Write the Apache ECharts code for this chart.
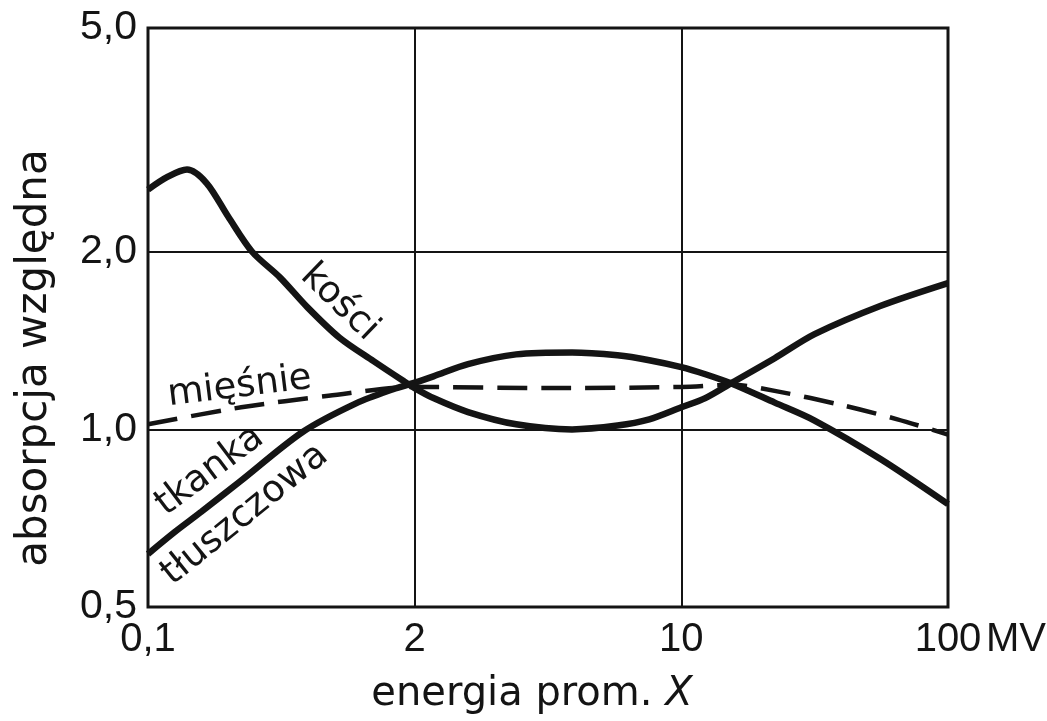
<!DOCTYPE html>
<html><head><meta charset="utf-8">
<script src="https://cdn.jsdelivr.net/npm/echarts@6/dist/echarts.min.js"></script>
<style>html,body{margin:0;padding:0;background:#fff}#c{width:1047px;height:721px}</style>
</head><body><div id="c"></div>
<script>
// ---- data ----
const xTickEnergies = [0.1, 2, 10, 100];
const xTickLabels = ['0,1', '2', '10', '100'];
const yTickValues = [0.5, 1.0, 2.0, 5.0];
const yTickLabels = ['0,5', '1,0', '2,0', '5,0'];

const boneEnergy = [0.1, 0.125, 0.155, 0.193, 0.246, 0.322, 0.44, 0.6, 0.86, 1.26, 1.75, 2.0, 2.24, 2.76, 3.69, 5.17, 6.8, 8.24, 10, 12.3, 15.5, 22.4, 31.6, 56, 100];
const boneValue  = [2.58, 2.72, 2.8, 2.65, 2.31, 2.0, 1.81, 1.61, 1.43, 1.305, 1.21, 1.175, 1.13, 1.07, 1.02, 1.0, 1.015, 1.04, 1.09, 1.13, 1.2, 1.32, 1.45, 1.62, 1.77];

const fatEnergy = [0.1, 0.135, 0.182, 0.281, 0.568, 1.035, 1.57, 2.0, 2.24, 2.76, 3.69, 5.17, 6.8, 8.24, 10, 12.3, 15.5, 22.4, 31.6, 56, 100];
const fatValue  = [0.615, 0.67, 0.725, 0.816, 0.99, 1.107, 1.17, 1.2, 1.23, 1.29, 1.34, 1.35, 1.335, 1.31, 1.275, 1.24, 1.195, 1.11, 1.035, 0.89, 0.747];

const muscleEnergy = [0.1, 0.285, 0.76, 2.0, 4.47, 10, 15.5, 22.9, 39.8, 64.6, 100];
const muscleValue  = [1.02, 1.09, 1.14, 1.18, 1.175, 1.18, 1.19, 1.16, 1.1, 1.04, 0.98];

const curveNames = ['kości', 'mięśnie', 'tkanka', 'tłuszczowa'];

// ---- scales of the original drawing (ticks equally spaced, log within each segment) ----
function xPos(E) {
  const t = xTickEnergies;
  for (let i = 0; i < t.length - 1; i++) {
    if (E <= t[i + 1] || i === t.length - 2) return i + Math.log(E / t[i]) / Math.log(t[i + 1] / t[i]);
  }
}
const TOP_STRETCH = 0.953; // top segment (2 -> 5) is drawn slightly compressed
function yPos(v) {
  if (v <= 2) return Math.log2(v);
  return 1 + Math.log2(v / 2) * TOP_STRETCH;
}
const zip = (xs, ys) => xs.map((e, i) => [xPos(e), yPos(ys[i])]);

// label anchors (data coordinates) and rotations
const labelCfg = [
  { text: curveNames[0], E: 0.86, v: 1.64, rot: -44 },
  { text: curveNames[1], E: 0.28, v: 1.18, rot: 7 },
  { text: curveNames[2], E: 0.2, v: 0.85, rot: 37 },
  { text: curveNames[3], E: 0.297, v: 0.717, rot: 39 }
];

const INK = '#141414';
const chart = echarts.init(document.getElementById('c'));
const yMax = yPos(yTickValues[yTickValues.length - 1]);

chart.setOption({
  animation: false,
  backgroundColor: '#fff',
  grid: { left: 148, right: 99, top: 28, bottom: 114, show: true, borderColor: INK, borderWidth: 3, backgroundColor: 'transparent' },
  xAxis: {
    type: 'value', min: 0, max: xTickEnergies.length - 1, interval: 1,
    axisLine: { show: false }, axisTick: { show: false }, splitLine: { show: false },
    axisLabel: { formatter: v => xTickLabels[Math.round(v)] || '', fontSize: 40, fontFamily: 'Liberation Sans', color: INK, margin: 13 }
  },
  yAxis: {
    type: 'value', min: -1, max: yMax, interval: 1,
    axisLine: { show: false }, axisTick: { show: false }, splitLine: { show: false },
    axisLabel: {
      formatter: v => { for (let i = 0; i < yTickValues.length; i++) if (Math.abs(yPos(yTickValues[i]) - v) < 1e-6) return yTickLabels[i]; return ''; },
      fontSize: 41, fontFamily: 'Liberation Sans', color: INK, margin: 11
    }
  },
  series: [
    {
      name: 'grid', type: 'line', data: [], silent: true,
      markLine: {
        silent: true, symbol: 'none', label: { show: false },
        lineStyle: { color: INK, width: 2, type: 'solid' },
        data: [{ yAxis: yPos(1) }, { yAxis: yPos(2) }, { xAxis: xPos(2) }, { xAxis: xPos(10) }]
      }
    },
    { name: curveNames[1], type: 'line', data: zip(muscleEnergy, muscleValue), showSymbol: false, smooth: 0.3,
      lineStyle: { color: INK, width: 4.5, type: [30, 14] } },
    { name: curveNames[0], type: 'line', data: zip(boneEnergy, boneValue), showSymbol: false, smooth: 0.3,
      lineStyle: { color: INK, width: 6.5 } },
    { name: curveNames[3], type: 'line', data: zip(fatEnergy, fatValue), showSymbol: false, smooth: 0.3,
      lineStyle: { color: INK, width: 6.5 } }
  ]
});

const graphics = labelCfg.map(c => {
  const p = chart.convertToPixel({ gridIndex: 0 }, [xPos(c.E), yPos(c.v)]);
  return { type: 'text', x: p[0], y: p[1], rotation: c.rot * Math.PI / 180, silent: true,
    style: { text: c.text, fontSize: 37, fontFamily: 'DejaVu Sans', fill: INK, align: 'center', verticalAlign: 'middle', textAlign: 'center', textVerticalAlign: 'middle' } };
});
graphics.push({ type: 'text', x: 35, y: 358, rotation: Math.PI / 2, silent: true,
  style: { text: 'absorpcja względna', fontSize: 42, fontFamily: 'DejaVu Sans', fill: INK, align: 'center', verticalAlign: 'middle', textAlign: 'center', textVerticalAlign: 'middle' } });
graphics.push({ type: 'text', x: 532, y: 695, silent: true,
  style: { text: 'energia prom. {i|X}', fontSize: 40, fontFamily: 'DejaVu Sans', fill: INK, align: 'center', verticalAlign: 'middle', textAlign: 'center', textVerticalAlign: 'middle',
    rich: { i: { fontSize: 40, fontFamily: 'DejaVu Sans', fontStyle: 'italic', fill: INK } } } });
graphics.push({ type: 'text', x: 1016, y: 640, silent: true,
  style: { text: 'MV', fontSize: 40, fontFamily: 'Liberation Sans', fill: INK, align: 'center', verticalAlign: 'middle', textAlign: 'center', textVerticalAlign: 'middle' } });
chart.setOption({ graphic: graphics });
</script>
</body></html>
